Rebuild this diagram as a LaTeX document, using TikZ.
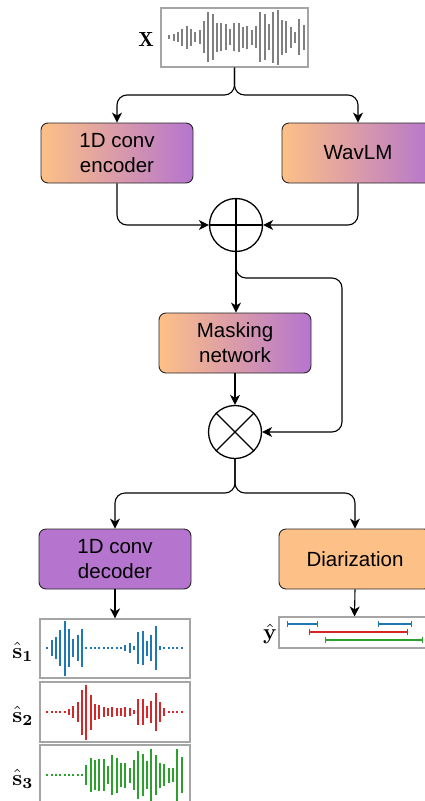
\documentclass[tikz,border=0pt]{standalone}
\usepackage{amsmath}
\usepackage{bm}
\usepackage{fontspec}
\newfontfamily\arialf{Liberation Sans}
\usetikzlibrary{arrows.meta,calc}
\definecolor{orng}{RGB}{253,192,134}
\definecolor{purp}{RGB}{181,117,206}
\definecolor{wgray}{RGB}{128,128,128}
\definecolor{bgray}{RGB}{165,165,165}
\definecolor{mblue}{RGB}{31,119,180}
\definecolor{mred}{RGB}{214,39,40}
\definecolor{mgreen}{RGB}{44,160,44}
\tikzset{
  blk/.style={draw=black!85, line width=0.9pt, rounded corners=7pt, minimum width=152pt, minimum height=60pt,
    align=center, font=\arialf\fontsize{20.5}{25}\selectfont, inner sep=0pt},
  grad/.style={left color=orng, right color=purp},
  conn/.style={line width=1.1pt, rounded corners=10pt, -{Stealth[length=10pt,width=10pt,inset=3pt]}},
  opc/.style={circle, draw, line width=1.3pt, minimum size=53pt, inner sep=0pt},
  wbox/.style={draw=bgray, line width=1.1pt, inner sep=0pt},
  wbar/.style={line width=2pt},
  mlab/.style={inner sep=0pt, scale=2.2, transform shape},
  seg/.style={line width=2pt, {Bar[width=6pt,line width=1.2pt]}-{Bar[width=6pt,line width=1.2pt]}}
}
\newcommand{\shat}[1]{$\bm{\hat{\mathbf{s}}}_{\bm{#1}}$}
\begin{document}
\begin{tikzpicture}[x=1pt,y=-1pt]
\useasboundingbox (0,0) rectangle (425,801);
\clip (0,0) rectangle (425,801);

% input waveform
\node[wbox, minimum width=147pt, minimum height=59pt] (xbox) at (234.5,37.5) {};
\foreach \h [count=\i from 0] in {12,20,30,52,70,50,30,42,97,150,137,88,85,77,47,83,86,63,70,45,65,150,138,77,152,165,105,95,62,32,108,74}
  \draw[wbar, wgray] (169.33+4.333*\i, 37.3-\h/6) -- ++(0,\h/3);
\node[mlab, scale=0.93] (xlab) at (146,39) {$\mathbf{X}$};

% encoders
\node[blk, grad] (enc) at (117,153) {1D conv\\encoder};
\node[blk, grad] (wav) at (358,153) {WavLM};
\node[opc] (plus) at (236,225) {};
\draw[line width=1.3pt] (plus.north) -- (plus.south) (plus.west) -- (plus.east);

\coordinate (sp1) at (236,95);
\draw[conn] (xbox.south) -- (xbox.south |- sp1) -| (enc.north);
\draw[conn] (xbox.south) -- (xbox.south |- sp1) -| (wav.north);
\draw[conn] (enc.south) |- (plus.west);
\draw[conn] (wav.south) |- (plus.east);

% masking
\node[blk, grad] (mask) at (235,343) {Masking\\network};
\node[opc] (times) at (235,432) {};
\draw[line width=1.3pt] (times.north west) -- (times.south east) (times.north east) -- (times.south west);
\draw[conn] (plus.south) -- (plus.south |- mask.north);
\coordinate (br) at (342,278);
\draw[conn] (plus.south) |- (br) |- (times.east);
\draw[conn] (mask.south) -- (times.north);

% outputs
\node[blk, fill=purp] (dec) at (115,559) {1D conv\\decoder};
\node[blk, fill=orng] (diar) at (355,559) {Diarization};
\coordinate (sp2) at (235,493);
\draw[conn] (times.south) -- (times.south |- sp2) -| (dec.north);
\draw[conn] (times.south) -- (times.south |- sp2) -| (diar.north);

% separated sources
\node[wbox, minimum width=150pt, minimum height=59pt] (sa) at (115,648.5) {};
\node[wbox, minimum width=150pt, minimum height=60pt] (sb) at (115,712) {};
\node[wbox, minimum width=150pt, minimum height=62pt] (sc) at (115,776) {};
\draw[conn] (dec.south) -- (sa.north);
\foreach \h [count=\i from 0] in {6,50,65,110,165,115,55,80,115,5,5,5,5,5,5,5,5,5,18,28,14,95,100,45,80,130,12,5,5,5,5,5}
  \draw[wbar, mblue] (47.33+4.333*\i, 648-\h/6) -- ++(0,\h/3);
\foreach \h [count=\i from 0] in {5,5,5,5,5,20,35,60,135,165,105,50,42,30,22,30,24,24,30,24,10,78,80,35,65,115,58,22,5,5,5,5}
  \draw[wbar, mred] (47.33+4.333*\i, 712-\h/6) -- ++(0,\h/3);
\foreach \h [count=\i from 0] in {5,5,5,5,5,5,5,5,5,62,100,88,95,95,52,118,105,70,75,45,92,145,125,82,158,118,75,65,45,42,155,110}
  \draw[wbar, mgreen] (47.33+4.333*\i, 775-\h/6) -- ++(0,\h/3);
\node[mlab] (la) at (23,652) {\shat{1}};
\node[mlab] (lb) at (23,716) {\shat{2}};
\node[mlab] (lc) at (23,779) {\shat{3}};

% diarization output
\node[wbox, minimum width=151pt, minimum height=31pt] (yb) at (354.5,632.5) {};
\draw[conn] (diar.south) -- (yb.north);
\node[mlab] (ylab) at (270,634) {$\bm{\hat{\mathbf{y}}}$};
\coordinate (b1a) at (287,624); \coordinate (b1b) at (318,624);
\coordinate (b2a) at (378,624); \coordinate (b2b) at (412,624);
\coordinate (r1a) at (309,632); \coordinate (r1b) at (408,632);
\coordinate (g1a) at (325,640); \coordinate (g1b) at (423,640);
\draw[seg, mblue] (b1a) -- (b1b);
\draw[seg, mblue] (b2a) -- (b2b);
\draw[seg, mred] (r1a) -- (r1b);
\draw[seg, mgreen] (g1a) -- (g1b);
\end{tikzpicture}
\end{document}
